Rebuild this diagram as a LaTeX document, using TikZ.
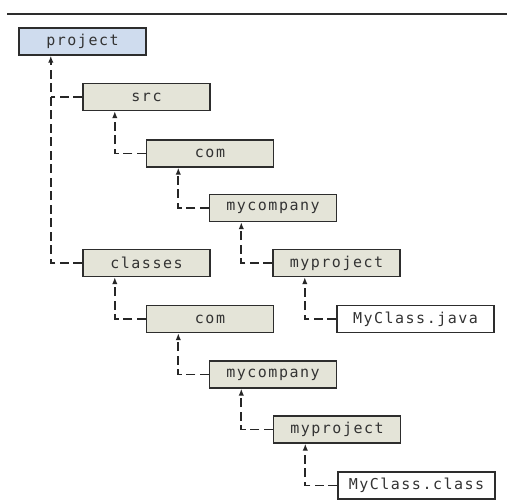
\documentclass[tikz,border=0pt]{standalone}
\usepackage{fontspec}
\newfontfamily\boxfont[LetterSpace=10]{DejaVu Sans Mono}
\usetikzlibrary{arrows.meta}
\definecolor{dirfill}{RGB}{228,228,216}
\definecolor{rootfill}{RGB}{207,220,238}
\definecolor{edge}{RGB}{45,45,45}
\tikzset{
  dirbox/.style={draw=edge, line width=1.4pt, fill=dirfill, minimum width=127pt,
    minimum height=27pt, inner sep=0pt, font=\boxfont\fontsize{15}{17}\selectfont, text=black!80},
  rootbox/.style={dirbox, fill=rootfill},
  filebox/.style={dirbox, fill=white, minimum width=157pt},
  link/.style={draw=black!85, line width=1.8pt, dash pattern=on 9pt off 4.5pt},
  conn/.style={link, -{Latex[length=7pt,width=5.5pt]}}
}
\begin{document}
\begin{tikzpicture}[x=1pt,y=-1pt]
  \useasboundingbox (0,0) rectangle (507,504);
  % rule across the top
  \draw[edge, line width=1.5pt] (7,14) -- (507,14);

  % source tree
  \node[rootbox] (project) at (82.5,41.5) {project};
  \node[dirbox]  (src)     at (146.5,97)  {src};
  \node[dirbox]  (com)     at (210,153.5) {com};
  \node[dirbox]  (mycomp)  at (273,208)   {mycompany};
  \node[dirbox]  (myproj)  at (336.5,263) {myproject};
  \node[filebox] (java)    at (415.5,319) {MyClass.java};

  % compiled tree
  \node[dirbox]  (classes) at (146.5,263)   {classes};
  \node[dirbox]  (comb)    at (210,319)     {com};
  \node[dirbox]  (mycompb) at (273,374.5)   {mycompany};
  \node[dirbox]  (myprojb) at (337,429.5)   {myproject};
  \node[filebox] (class)   at (416.5,485.5) {MyClass.class};

  % the root's shared trunk: classes carries the arrow, src joins it
  \coordinate (trunk) at ([xshift=32.5pt]project.south west);
  \draw[conn] (classes.west) -| (trunk);
  \draw[link] (src.west) -- (src.west -| trunk);

  % child-to-parent links
  \draw[conn] (com.west)     -| ([xshift=32.5pt]src.south west);
  \draw[conn] (mycomp.west)  -| ([xshift=32.5pt]com.south west);
  \draw[conn] (myproj.west)  -| ([xshift=32.5pt]mycomp.south west);
  \draw[conn] (java.west)    -| ([xshift=32.5pt]myproj.south west);
  \draw[conn] (comb.west)    -| ([xshift=32.5pt]classes.south west);
  \draw[conn] (mycompb.west) -| ([xshift=32.5pt]comb.south west);
  \draw[conn] (myprojb.west) -| ([xshift=32.5pt]mycompb.south west);
  \draw[conn] (class.west)   -| ([xshift=32.5pt]myprojb.south west);
\end{tikzpicture}
\end{document}
